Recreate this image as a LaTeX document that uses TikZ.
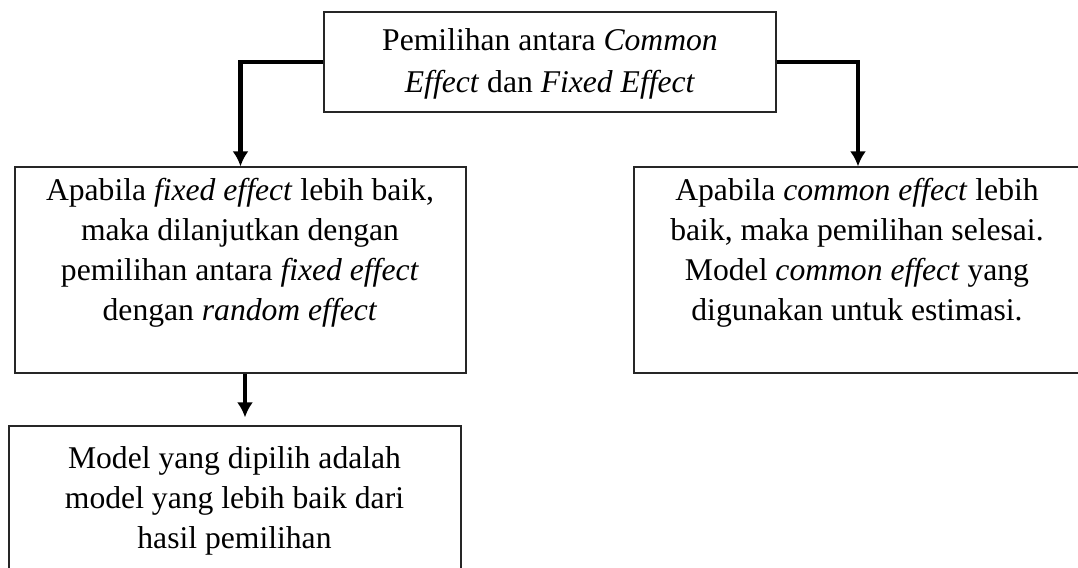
\documentclass[tikz,border=0pt]{standalone}
\usepackage{fontspec}
\setmainfont{Liberation Serif}
\usetikzlibrary{arrows.meta}
\tikzset{
  box/.style={draw=black!85, line width=0.7pt, fill=white, inner sep=0pt},
  boxtext/.style={align=center, inner sep=0pt, font=\fontsize{18}{22.8}\selectfont},
  conn/.style={line width=2.3pt, draw=black, -{Latex[length=0.3cm, width=0.32cm]}},
}
\begin{document}
\begin{tikzpicture}
\useasboundingbox (0,0) rectangle (21.56,11.34);
\node[box, minimum width=9.04cm, minimum height=2.0cm] (choice) at (11.00,10.10) {};
\node[boxtext] (choicetxt) at (11.00,10.06) {Pemilihan antara \textit{Common}\\[1.5pt] \textit{Effect} dan \textit{Fixed Effect}};
\node[box, minimum width=9.02cm, minimum height=4.12cm] (fixed) at (4.81,5.94) {};
\node[boxtext] (fixedtxt) at (4.80,6.28) {Apabila \textit{fixed effect} lebih baik,\\ maka dilanjutkan dengan\\ pemilihan antara \textit{fixed effect}\\ dengan \textit{random effect}};
\node[box, minimum width=8.96cm, minimum height=4.12cm] (common) at (17.16,5.94) {};
\node[boxtext] (commontxt) at (17.14,6.28) {Apabila \textit{common effect} lebih\\ baik, maka pemilihan selesai.\\ Model \textit{common effect} yang\\ digunakan untuk estimasi.};
\node[box, minimum width=9.04cm, minimum height=4.12cm] (result) at (4.70,0.76) {};
\node[boxtext] (resulttxt) at (4.69,1.32) {Model yang dipilih adalah\\ model yang lebih baik dari\\ hasil pemilihan};
\draw[conn] (choice.west) -| (fixed.north);
\draw[conn] (choice.east) -| (common.north);
\draw[conn, shorten >=0.16cm] ([xshift=0.09cm]fixed.south) -- ([xshift=0.09cm]fixed.south |- result.north);
\end{tikzpicture}
\end{document}
